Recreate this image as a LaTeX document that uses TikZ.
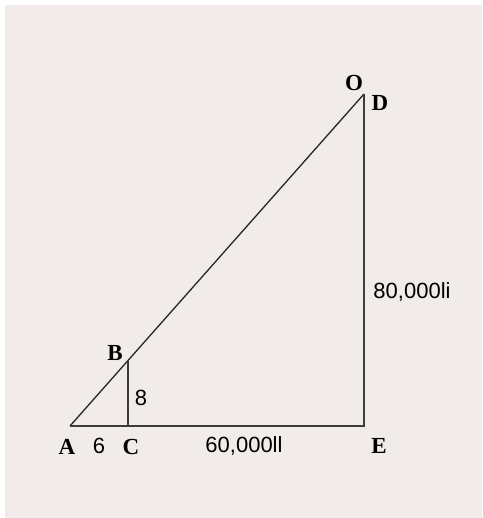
\documentclass[tikz,border=0pt]{standalone}
\usepackage{fontspec}
\setmainfont{Liberation Serif}
\newfontfamily\numfont{Liberation Sans}
\usepackage{xcolor}
\definecolor{paperbg}{RGB}{241,236,233}
\definecolor{linegray}{RGB}{60,60,60}
\usepackage{tikz}
\usetikzlibrary{positioning, calc}

\tikzset{
  ptlabel/.style={font=\fontsize{23}{23}\selectfont\bfseries, inner sep=0pt},
  numlabel/.style={font=\fontsize{22}{22}\selectfont\numfont, inner sep=0pt},
  side/.style={draw=linegray, line width=1.3pt}
}

\begin{document}
\begin{tikzpicture}[x=1pt, y=-1pt]
  \fill[white] (0,0) rectangle (482,518);
  \fill[paperbg] (5,5) rectangle (482,518);
  % triangle corners
  \coordinate (A) at (70,426);
  \coordinate (C) at (128,426);
  \coordinate (B) at (128,360.5);
  \coordinate (E) at (364,426);
  \coordinate (D) at (364,94);
  \draw[side, draw=black!85] (A) -- (D);
  \draw[side] (D) -- (E) -- (A);
  \draw[side] (B) -- (C);
  % letters
  \node[ptlabel] (labO) at (354,83) {O};
  \node[ptlabel] (labD) at (380,103) {D};
  \node[ptlabel] (labB) at (115,353) {B};
  \node[ptlabel] (labA) at (67,447) {A};
  \node[ptlabel] (labC) at (131,447) {C};
  \node[ptlabel] (labE) at (379,446) {E};
  % lengths
  \node[numlabel] (len6) at (99,446) {6};
  \node[numlabel] (len8) at (141,398) {8};
  \node[numlabel] (lenAE) at (244,446) {60,000ll};
  \node[numlabel] (lenDE) at (412,292) {80,000li};
\end{tikzpicture}
\end{document}
